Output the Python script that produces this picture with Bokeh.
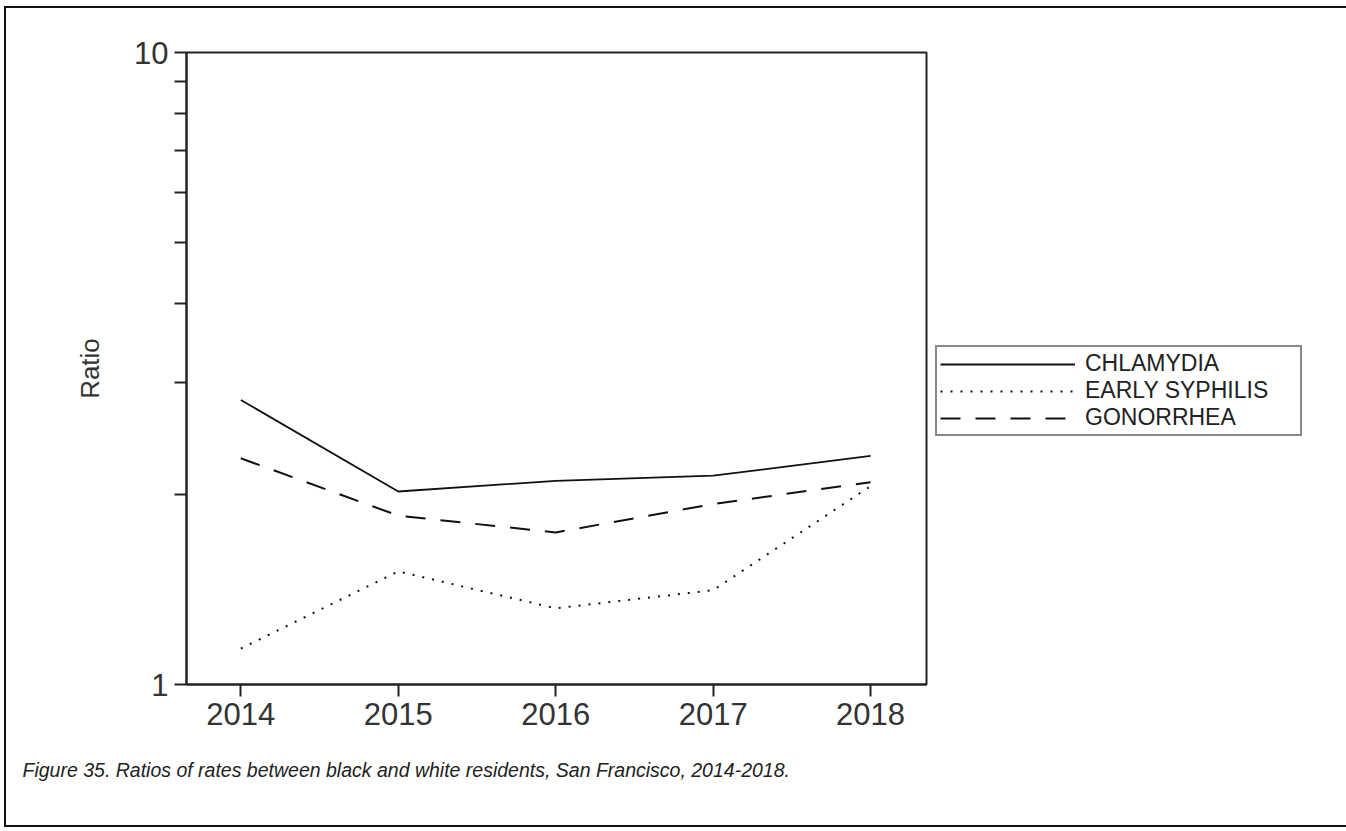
from bokeh.plotting import figure
from bokeh.models import Range1d, FixedTicker, Legend, LegendItem, Title
from bokeh.layouts import column
from bokeh.embed import file_html
from bokeh.resources import INLINE

years = [2014, 2015, 2016, 2017, 2018]
year_labels = ["2014", "2015", "2016", "2017", "2018"]
chlamydia = [2.82, 2.02, 2.10, 2.14, 2.30]
early_syphilis = [1.14, 1.51, 1.32, 1.41, 2.06]
gonorrhea = [2.28, 1.85, 1.74, 1.93, 2.09]
series_names = ["CHLAMYDIA", "EARLY SYPHILIS", "GONORRHEA"]
y_ticks = [1, 10]
y_minor = [2, 3, 4, 5, 6, 7, 8, 9]
caption = "Figure 35.  Ratios of rates between black and white residents, San Francisco, 2014-2018."

TEXT_FONT = "'Liberation Sans', Arial, sans-serif"

p = figure(frame_width=740, frame_height=632, y_axis_type="log",
           x_range=Range1d(2013.655, 2018.355), y_range=Range1d(1, 10),
           output_backend="svg", toolbar_location=None,
           min_border_left=180, min_border_right=414,
           min_border_top=44, min_border_bottom=141)

p.xgrid.visible = False
p.ygrid.visible = False
p.outline_line_color = "#222"
p.outline_line_width = 2
p.background_fill_color = "white"
p.border_fill_color = "white"

ln_c = p.line(years, chlamydia, line_color="#111", line_width=1.8)
ln_s = p.line(years, early_syphilis, line_color="#111", line_width=2, line_dash="2 8")
ln_g = p.line(years, gonorrhea, line_color="#111", line_width=2, line_dash="20 15")

# axes
p.xaxis.ticker = FixedTicker(ticks=years)
p.xaxis.major_label_overrides = {y: l for y, l in zip(years, year_labels)}
p.yaxis.ticker = FixedTicker(ticks=y_ticks, minor_ticks=y_minor)
p.yaxis.major_label_overrides = {1: "1", 10: "10"}
for ax in (p.xaxis[0], p.yaxis[0]):
    ax.axis_line_color = "#222"
    ax.axis_line_width = 2
    ax.major_tick_line_color = "#222"
    ax.major_tick_line_width = 2
    ax.minor_tick_line_color = "#222"
    ax.minor_tick_line_width = 2
    ax.major_tick_in = 0
    ax.minor_tick_in = 0
    ax.major_tick_out = 12
    ax.minor_tick_out = 12
    ax.major_label_text_font = TEXT_FONT
    ax.major_label_text_font_size = "31px"
    ax.major_label_text_color = "#333"
    ax.major_label_standoff = 6
p.xaxis.minor_tick_out = 0
p.yaxis.axis_label = "Ratio"
p.yaxis.axis_label_text_font = TEXT_FONT
p.yaxis.axis_label_text_font_style = "normal"
p.yaxis.axis_label_text_font_size = "26px"
p.yaxis.axis_label_text_color = "#333"
p.yaxis.axis_label_standoff = 26

legend = Legend(items=[LegendItem(label=series_names[0], renderers=[ln_c]),
                       LegendItem(label=series_names[1], renderers=[ln_s]),
                       LegendItem(label=series_names[2], renderers=[ln_g])],
                location=(9, 248))
legend.border_line_color = "#111"
legend.border_line_width = 2
legend.background_fill_color = "white"
legend.label_text_font = TEXT_FONT
legend.label_text_font_size = "23px"
legend.label_text_color = "#222"
legend.glyph_width = 135
legend.glyph_height = 24
legend.label_height = 24
legend.label_width = 212
legend.spacing = 0
legend.padding = 3
legend.margin = 0
legend.label_standoff = 10
p.add_layout(legend, "right")

cap = Title(text=caption, align="left", offset=-164, standoff=58,
            text_font=TEXT_FONT, text_font_style="italic",
            text_font_size="19.5px", text_color="#222")
p.add_layout(cap, "below")

root = column(p, styles={"border": "2px solid #111", "margin-left": "4px",
                         "margin-top": "6px"})

open("out.html", "w").write(file_html(root, INLINE))
